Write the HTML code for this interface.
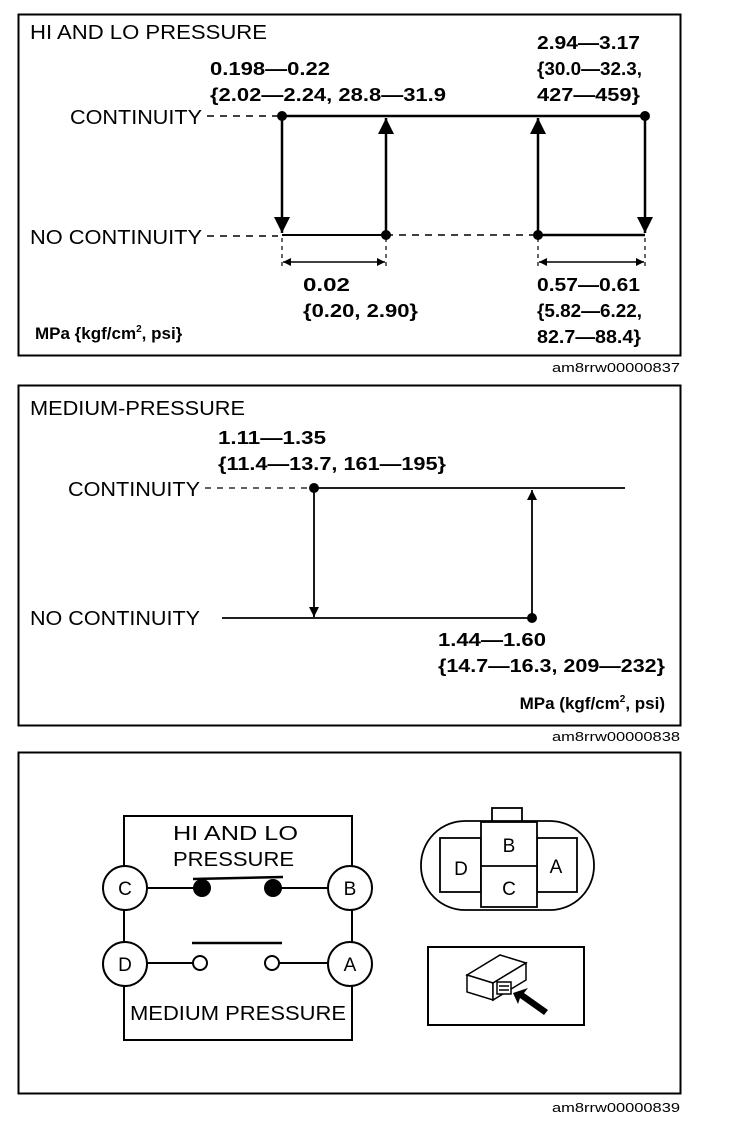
<!DOCTYPE html>
<html><head><style>
body{margin:0;background:#fff;}
svg{display:block;}
text{font-family:"Liberation Sans",Arial,sans-serif;fill:#000;}
.b{font-weight:bold;}
</style></head><body>
<svg width="736" height="1128" viewBox="0 0 736 1128" xmlns="http://www.w3.org/2000/svg">
<defs>
<marker id="ah" viewBox="0 0 10 10" refX="10" refY="5" markerWidth="10" markerHeight="16" markerUnits="userSpaceOnUse" orient="auto-start-reverse"><path d="M0,0 L10,5 L0,10 z"/></marker>
<marker id="bh" viewBox="0 0 10 10" refX="10" refY="5" markerWidth="24" markerHeight="16" markerUnits="userSpaceOnUse" orient="auto"><path d="M0,0 L10,5 L0,10 z"/></marker>
<marker id="sh" viewBox="0 0 10 10" refX="10" refY="5" markerWidth="14" markerHeight="8" markerUnits="userSpaceOnUse" orient="auto-start-reverse"><path d="M0,0 L10,5 L0,10 z"/></marker>
</defs>
<g fill="none" stroke="#000">
<rect x="18.5" y="14.5" width="662" height="341" stroke-width="2"/>
<rect x="18.5" y="385.5" width="662" height="340" stroke-width="2"/>
<rect x="18.5" y="752.5" width="662" height="341" stroke-width="2"/>
</g>
<!-- Panel 1 -->
<text x="30" y="39" font-size="20" textLength="237" lengthAdjust="spacingAndGlyphs">HI AND LO PRESSURE</text>
<text x="210" y="75" font-size="18" class="b" textLength="120" lengthAdjust="spacingAndGlyphs">0.198—0.22</text>
<text x="210" y="101" font-size="18" class="b" textLength="236" lengthAdjust="spacingAndGlyphs">{2.02—2.24, 28.8—31.9</text>
<text x="537" y="49" font-size="18" class="b" textLength="103" lengthAdjust="spacingAndGlyphs">2.94—3.17</text>
<text x="537" y="75" font-size="18" class="b" textLength="105" lengthAdjust="spacingAndGlyphs">{30.0—32.3,</text>
<text x="537" y="101" font-size="18" class="b" textLength="103" lengthAdjust="spacingAndGlyphs">427—459}</text>
<text x="70" y="124" font-size="20" textLength="132" lengthAdjust="spacingAndGlyphs">CONTINUITY</text>
<text x="30" y="244" font-size="20" textLength="172" lengthAdjust="spacingAndGlyphs">NO CONTINUITY</text>
<text x="303" y="291" font-size="18" class="b" textLength="47" lengthAdjust="spacingAndGlyphs">0.02</text>
<text x="303" y="317" font-size="18" class="b" textLength="115" lengthAdjust="spacingAndGlyphs">{0.20, 2.90}</text>
<text x="537" y="291" font-size="18" class="b" textLength="103" lengthAdjust="spacingAndGlyphs">0.57—0.61</text>
<text x="537" y="317" font-size="18" class="b" textLength="105" lengthAdjust="spacingAndGlyphs">{5.82—6.22,</text>
<text x="537" y="343" font-size="18" class="b" textLength="104" lengthAdjust="spacingAndGlyphs">82.7—88.4}</text>
<text x="35" y="339" font-size="17" class="b">MPa {kgf/cm<tspan font-size="10" dy="-7">2</tspan><tspan dy="7">, psi}</tspan></text>
<text x="552" y="372" font-size="13" textLength="128" lengthAdjust="spacingAndGlyphs">am8rrw00000837</text>
<g stroke="#000" fill="none">
<line x1="207" y1="116" x2="278" y2="116" stroke-dasharray="7,6" stroke-width="1.5"/>
<line x1="207" y1="236" x2="278" y2="236" stroke-dasharray="7,6" stroke-width="1.5"/>
<line x1="282" y1="116" x2="645" y2="116" stroke-width="2.5"/>
<line x1="282" y1="235" x2="386" y2="235" stroke-width="2"/>
<line x1="386" y1="235" x2="538" y2="235" stroke-dasharray="7,6" stroke-width="1.5"/>
<line x1="538" y1="235" x2="645" y2="235" stroke-width="2.5"/>
<line x1="282" y1="116" x2="282" y2="233" stroke-width="2.5" marker-end="url(#bh)"/>
<line x1="386" y1="235" x2="386" y2="118" stroke-width="2.5" marker-end="url(#bh)"/>
<line x1="538" y1="235" x2="538" y2="118" stroke-width="2.5" marker-end="url(#bh)"/>
<line x1="645" y1="116" x2="645" y2="233" stroke-width="2.5" marker-end="url(#bh)"/>
<g stroke-dasharray="4,4" stroke-width="1.2">
<line x1="282" y1="238" x2="282" y2="270"/><line x1="386" y1="238" x2="386" y2="270"/>
<line x1="538" y1="238" x2="538" y2="270"/><line x1="645" y1="238" x2="645" y2="270"/>
</g>
<line x1="283" y1="262" x2="385" y2="262" stroke-width="1.5" marker-start="url(#sh)" marker-end="url(#sh)"/>
<line x1="539" y1="262" x2="644" y2="262" stroke-width="1.5" marker-start="url(#sh)" marker-end="url(#sh)"/>
</g>
<circle cx="282" cy="116" r="5"/><circle cx="645" cy="116" r="5"/>
<circle cx="386" cy="235" r="5"/><circle cx="538" cy="235" r="5"/>
<!-- Panel 2 -->
<text x="30" y="415" font-size="20" textLength="215" lengthAdjust="spacingAndGlyphs">MEDIUM-PRESSURE</text>
<text x="218" y="444" font-size="18" class="b" textLength="108" lengthAdjust="spacingAndGlyphs">1.11—1.35</text>
<text x="218" y="470" font-size="18" class="b" textLength="228" lengthAdjust="spacingAndGlyphs">{11.4—13.7, 161—195}</text>
<text x="68" y="496" font-size="20" textLength="132" lengthAdjust="spacingAndGlyphs">CONTINUITY</text>
<text x="30" y="625" font-size="20" textLength="170" lengthAdjust="spacingAndGlyphs">NO CONTINUITY</text>
<text x="438" y="646" font-size="18" class="b" textLength="108" lengthAdjust="spacingAndGlyphs">1.44—1.60</text>
<text x="438" y="672" font-size="18" class="b" textLength="227" lengthAdjust="spacingAndGlyphs">{14.7—16.3, 209—232}</text>
<text x="665" y="709" font-size="17" class="b" text-anchor="end">MPa (kgf/cm<tspan font-size="10" dy="-7">2</tspan><tspan dy="7">, psi)</tspan></text>
<text x="552" y="741" font-size="13" textLength="128" lengthAdjust="spacingAndGlyphs">am8rrw00000838</text>
<g stroke="#000" fill="none">
<line x1="205" y1="488" x2="310" y2="488" stroke-dasharray="6,6" stroke-width="1.3"/>
<line x1="314" y1="488" x2="625" y2="488" stroke-width="1.8"/>
<line x1="222" y1="618" x2="532" y2="618" stroke-width="1.8"/>
<line x1="314" y1="488" x2="314" y2="617" stroke-width="1.8" marker-end="url(#ah)"/>
<line x1="532" y1="618" x2="532" y2="490" stroke-width="1.8" marker-end="url(#ah)"/>
</g>
<circle cx="314" cy="488" r="5"/><circle cx="532" cy="618" r="5"/>
<!-- Panel 3 -->
<g stroke="#000" fill="none" stroke-width="2">
<rect x="124" y="816" width="228" height="224"/>
<line x1="125" y1="888" x2="202" y2="888"/>
<line x1="273" y1="888" x2="350" y2="888"/>
<line x1="125" y1="963" x2="200" y2="963"/>
<line x1="272" y1="963" x2="350" y2="963"/>
<line x1="193" y1="879" x2="283" y2="877" stroke-width="2.5"/>
<line x1="192" y1="943" x2="282" y2="943" stroke-width="2.5"/>
</g>
<text x="173" y="840" font-size="20" textLength="125" lengthAdjust="spacingAndGlyphs">HI AND LO</text>
<text x="173" y="866" font-size="20" textLength="121" lengthAdjust="spacingAndGlyphs">PRESSURE</text>
<text x="238" y="1020" font-size="20" text-anchor="middle" textLength="216" lengthAdjust="spacingAndGlyphs">MEDIUM PRESSURE</text>
<circle cx="202" cy="888" r="9"/><circle cx="273" cy="888" r="9"/>
<g stroke="#000" stroke-width="2" fill="#fff">
<circle cx="200" cy="963" r="7"/><circle cx="272" cy="963" r="7"/>
<circle cx="125" cy="888" r="22"/><circle cx="350" cy="888" r="22"/>
<circle cx="125" cy="964" r="22"/><circle cx="350" cy="964" r="22"/>
</g>
<g font-size="19" text-anchor="middle">
<text x="125" y="895">C</text><text x="350" y="895">B</text>
<text x="125" y="971">D</text><text x="350" y="971">A</text>
</g>
<!-- connector face -->
<g stroke="#000" fill="none" stroke-width="1.8">
<rect x="492" y="808" width="30" height="14" fill="#fff"/>
<rect x="421" y="821" width="173" height="89" rx="44" ry="44" fill="#fff"/>
<rect x="440" y="838" width="41" height="54"/>
<rect x="537" y="838" width="40" height="54"/>
<rect x="481" y="822" width="56" height="85" fill="#fff"/>
<line x1="481" y1="866" x2="537" y2="866"/>
</g>
<g font-size="19" text-anchor="middle">
<text x="509" y="852">B</text><text x="509" y="895">C</text>
<text x="461" y="875">D</text><text x="556" y="873">A</text>
</g>
<rect x="428" y="947" width="156" height="78" fill="none" stroke="#000" stroke-width="2"/>
<g stroke="#000" stroke-width="1.5" fill="#fff">
<path d="M467,975 L500,955 L526,963 L493,983 Z"/>
<path d="M467,975 L493,983 L493,1000 L467,992 Z"/>
<path d="M493,983 L526,963 L526,980 L493,1000 Z"/>
<rect x="497" y="982" width="14" height="12"/>
<line x1="499" y1="986" x2="509" y2="986"/><line x1="499" y1="990" x2="509" y2="990"/>
</g>
<path d="M513,993 L528,988 L524,993 L548,1010 L544,1015 L520,998 L518,1004 Z" fill="#000"/>
<text x="552" y="1112" font-size="13" textLength="128" lengthAdjust="spacingAndGlyphs">am8rrw00000839</text>
</svg>
</body></html>
